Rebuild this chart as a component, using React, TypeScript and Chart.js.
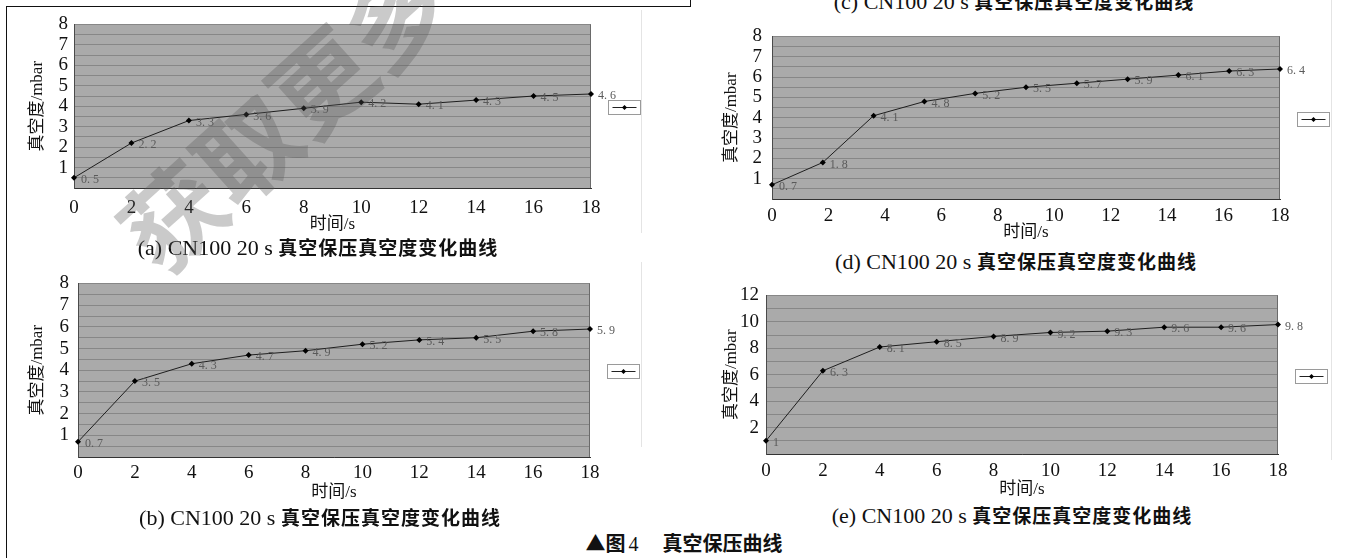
import React, { useEffect, useRef } from 'react';
import { Chart, registerables } from 'chart.js';

Chart.register(...registerables);

// ---------- data ----------
const xTickStep = 2;
const timeA = [0, 2, 4, 6, 8, 10, 12, 14, 16, 18];
const vacuumA = [0.5, 2.2, 3.3, 3.6, 3.9, 4.2, 4.1, 4.3, 4.5, 4.6];
const timeB = [0, 2, 4, 6, 8, 10, 12, 14, 16, 18];
const vacuumB = [0.7, 3.5, 4.3, 4.7, 4.9, 5.2, 5.4, 5.5, 5.8, 5.9];
const timeD = [0, 1.8, 3.6, 5.4, 7.2, 9, 10.8, 12.6, 14.4, 16.2, 18];
const vacuumD = [0.7, 1.8, 4.1, 4.8, 5.2, 5.5, 5.7, 5.9, 6.1, 6.3, 6.4];
const timeE = [0, 2, 4, 6, 8, 10, 12, 14, 16, 18];
const vacuumE = [1, 6.3, 8.1, 8.5, 8.9, 9.2, 9.3, 9.6, 9.6, 9.8];

const xTitle = '时间/s';
const yTitle = '真空度/mbar';
const captionTail = '真空保压真空度变化曲线';
const captionC = '(c) CN100 20 s ';
const captionA = '(a) CN100 20 s ';
const captionD = '(d) CN100 20 s ';
const captionB = '(b) CN100 20 s ';
const captionE = '(e) CN100 20 s ';
const figureCaption = ['▲图', '4', '　真空保压曲线'];
const watermark = '获取更多';

// ---------- styles ----------
const SERIF = '"Liberation Serif", "Times New Roman", serif';
const MIXED = '"Liberation Serif", "Noto Sans CJK SC", serif';
const CJK = '"Noto Sans CJK SC", sans-serif';

type Spec = {
  left: number; top: number; width: number; height: number;
  yAxisWidth: number; xAxisHeight: number; padTop: number; padRight: number;
  yTitlePad: number; yTickPad: number; xTickPad: number; xTitlePad: number;
  yMax: number; yStep: number; yLabelStep: number;
};

const specA: Spec = { left: 10, top: 9, width: 640, height: 226, yAxisWidth: 64, xAxisHeight: 47, padTop: 10, padRight: 59, yTitlePad: 19, yTickPad: 6, xTickPad: 10.5, xTitlePad: 1.5, yMax: 8, yStep: 0.5, yLabelStep: 1 };
const specB: Spec = { left: 10, top: 265, width: 640, height: 238, yAxisWidth: 68, xAxisHeight: 46, padTop: 10, padRight: 60, yTitlePad: 19.5, yTickPad: 9, xTickPad: 6.5, xTitlePad: 1.5, yMax: 8, yStep: 0.5, yLabelStep: 1 };
const specD: Spec = { left: 700, top: 17, width: 640, height: 226, yAxisWidth: 72, xAxisHeight: 44, padTop: 10, padRight: 60, yTitlePad: 23.5, yTickPad: 10, xTickPad: 7.5, xTitlePad: 1.5, yMax: 8, yStep: 0.5, yLabelStep: 1 };
const specE: Spec = { left: 700, top: 279, width: 640, height: 221, yAxisWidth: 66, xAxisHeight: 46, padTop: 10, padRight: 62, yTitlePad: 23.5, yTickPad: 7, xTickPad: 7.5, xTitlePad: 1.5, yMax: 12, yStep: 1, yLabelStep: 2 };

const plotBg = {
  id: 'plotBg',
  beforeDraw(chart: any) {
    const { ctx, chartArea } = chart;
    const { left, top, width, height } = chartArea;
    ctx.save();
    ctx.fillStyle = '#aaaaaa';
    ctx.fillRect(left, top, width, height);
    ctx.restore();
  },
  beforeDatasetsDraw(chart: any) {
    const { ctx, chartArea } = chart;
    ctx.save();
    ctx.strokeStyle = '#6a6a6a';
    ctx.lineWidth = 1;
    ctx.beginPath();
    ctx.moveTo(Math.round(chartArea.right) - 0.5, chartArea.top);
    ctx.lineTo(Math.round(chartArea.right) - 0.5, chartArea.bottom);
    ctx.stroke();
    ctx.restore();
  },
};

const fmt = (v: number) => (Number.isInteger(v) ? String(v) : String(v).replace('.', '. '));

const pointLabels = {
  id: 'pointLabels',
  afterDatasetsDraw(chart: any) {
    const { ctx } = chart;
    const meta = chart.getDatasetMeta(0);
    const data = chart.data.datasets[0].data as any[];
    ctx.save();
    ctx.font = `12px ${SERIF}`;
    ctx.fillStyle = '#5a5a5a';
    ctx.textAlign = 'left';
    ctx.textBaseline = 'middle';
    meta.data.forEach((pt: any, i: number) => {
      ctx.fillText(fmt(data[i].y), pt.x + 7, pt.y + 2);
    });
    ctx.restore();
  },
};

const legendBox = {
  id: 'legendBox',
  afterDraw(chart: any) {
    const { ctx, chartArea } = chart;
    const w = 32, h = 14;
    const x = Math.round(chartArea.right + 17) + 0.5;
    const y = Math.round((chartArea.top + chartArea.bottom) / 2 - h / 2 + 1) + 0.5;
    ctx.save();
    ctx.fillStyle = '#ffffff';
    ctx.fillRect(x, y, w, h);
    ctx.strokeStyle = '#9a9a9a';
    ctx.lineWidth = 1;
    ctx.strokeRect(x, y, w, h);
    ctx.strokeStyle = '#222';
    ctx.beginPath();
    ctx.moveTo(x + 4, y + h / 2);
    ctx.lineTo(x + w - 4, y + h / 2);
    ctx.stroke();
    ctx.fillStyle = '#000';
    const cx = x + w / 2, cy = y + h / 2, r = 2.5;
    ctx.beginPath();
    ctx.moveTo(cx, cy - r);
    ctx.lineTo(cx + r, cy);
    ctx.lineTo(cx, cy + r);
    ctx.lineTo(cx - r, cy);
    ctx.closePath();
    ctx.fill();
    ctx.restore();
  },
};

function Panel({ spec, xs, ys }: { spec: Spec; xs: number[]; ys: number[] }) {
  const ref = useRef<HTMLCanvasElement>(null);
  useEffect(() => {
    const canvas = ref.current as HTMLCanvasElement;
    const chart = new Chart(canvas, {
      type: 'line',
      data: {
        datasets: [
          {
            data: xs.map((x, i) => ({ x, y: ys[i] })),
            borderColor: '#1e1e1e',
            borderWidth: 1,
            pointStyle: 'rectRot',
            pointRadius: 3,
            pointBackgroundColor: '#000',
            pointBorderColor: '#000',
            pointBorderWidth: 0,
            tension: 0,
            clip: false,
          } as any,
        ],
      },
      options: {
        responsive: false,
        animation: false,
        devicePixelRatio: 1,
        layout: { padding: { top: spec.padTop, right: spec.padRight, left: 0, bottom: 0 } },
        plugins: { legend: { display: false }, tooltip: { enabled: false } },
        scales: {
          x: {
            type: 'linear',
            min: 0,
            max: 18,
            ticks: {
              stepSize: xTickStep,
              padding: spec.xTickPad,
              autoSkip: false,
              maxRotation: 0,
              color: '#111',
              font: { family: SERIF, size: 19, lineHeight: 1 },
            },
            grid: { display: false, drawTicks: false },
            border: { display: true, color: '#333', width: 1 },
            title: {
              display: true,
              text: xTitle,
              color: '#111',
              font: { family: MIXED, size: 17, lineHeight: 1 },
              padding: { top: 0, bottom: spec.xTitlePad },
            },
            afterFit: (s: any) => { s.height = spec.xAxisHeight; },
          },
          y: {
            type: 'linear',
            min: 0,
            max: spec.yMax,
            ticks: {
              stepSize: spec.yStep,
              padding: spec.yTickPad,
              autoSkip: false,
              color: '#111',
              font: { family: SERIF, size: 19, lineHeight: 1 },
              callback: (v: any) => {
                const n = Number(v);
                return n > 0 && Math.abs(n / spec.yLabelStep - Math.round(n / spec.yLabelStep)) < 1e-9 ? String(n) : '';
              },
            },
            grid: { color: '#878787', lineWidth: 1, drawTicks: false },
            border: { display: true, color: '#4a4a4a', width: 1 },
            title: {
              display: true,
              text: yTitle,
              color: '#111',
              font: { family: MIXED, size: 17, lineHeight: 1 },
              padding: { top: spec.yTitlePad, bottom: 0 },
            },
            afterFit: (s: any) => { s.width = spec.yAxisWidth; },
          },
        },
      } as any,
      plugins: [plotBg, pointLabels, legendBox],
    });
    return () => chart.destroy();
  }, []);
  return (
    <canvas
      ref={ref}
      width={spec.width}
      height={spec.height}
      style={{ position: 'absolute', left: spec.left, top: spec.top }}
    />
  );
}

function Caption({ head, x, y }: { head: string; x: number; y: number }) {
  return (
    <div
      style={{
        position: 'absolute',
        left: x,
        top: y,
        transform: 'translate(-50%, -50%)',
        whiteSpace: 'pre',
        lineHeight: '22px',
        color: '#111',
      }}
    >
      <span style={{ fontFamily: SERIF, fontSize: 22 }}>{head}</span>
      <span style={{ fontFamily: CJK, fontSize: 19, fontWeight: 700, letterSpacing: 1 }}>{captionTail}</span>
    </div>
  );
}

function VLine({ x, y1, y2, color }: { x: number; y1: number; y2: number; color: string }) {
  return <div style={{ position: 'absolute', left: x, top: y1, width: 1, height: y2 - y1, background: color }} />;
}

export default function App() {
  return (
    <div
      style={{
        position: 'absolute',
        left: 0,
        top: 0,
        width: 1345,
        height: 558,
        overflow: 'hidden',
        background: '#fff',
      }}
    >
      {/* frame lines */}
      <div style={{ position: 'absolute', left: 6, top: 6, width: 684, height: 1, background: '#111' }} />
      <VLine x={6} y1={6} y2={558} color="#111" />
      <VLine x={690} y1={0} y2={7} color="#111" />
      <VLine x={641} y1={10} y2={233} color="#e4e4e4" />
      <VLine x={641} y1={262} y2={447} color="#e4e4e4" />
      <VLine x={1331} y1={0} y2={270} color="#e4e4e4" />
      <VLine x={1331} y1={262} y2={460} color="#e4e4e4" />

      <Panel spec={specA} xs={timeA} ys={vacuumA} />
      <Panel spec={specB} xs={timeB} ys={vacuumB} />
      <Panel spec={specD} xs={timeD} ys={vacuumD} />
      <Panel spec={specE} xs={timeE} ys={vacuumE} />

      <Caption head={captionC} x={1014} y={2} />
      <Caption head={captionA} x={318} y={248} />
      <Caption head={captionD} x={1016} y={262} />
      <Caption head={captionB} x={320} y={518} />
      <Caption head={captionE} x={1012} y={516} />

      <div
        style={{
          position: 'absolute',
          left: 684,
          top: 543,
          transform: 'translate(-50%, -50%)',
          whiteSpace: 'pre',
          fontSize: 20,
          lineHeight: '22px',
          color: '#111',
          fontFamily: CJK,
          fontWeight: 700,
        }}
      >
        <span>{figureCaption[0]}</span>
        <span style={{ fontFamily: SERIF, fontWeight: 400, marginLeft: 3 }}>{figureCaption[1]}</span>
        <span style={{ marginLeft: 4 }}>{figureCaption[2]}</span>
      </div>

      {/* watermark */}
      <div
        style={{
          position: 'absolute',
          left: 120,
          top: 163,
          fontFamily: CJK,
          fontWeight: 700,
          fontSize: 100,
          lineHeight: '100px',
          whiteSpace: 'nowrap',
          color: 'rgba(90,90,90,0.32)',
          transformOrigin: '50px 50px',
          transform: 'rotate(-42deg)',
          pointerEvents: 'none',
        }}
      >
        {watermark}
      </div>
    </div>
  );
}
